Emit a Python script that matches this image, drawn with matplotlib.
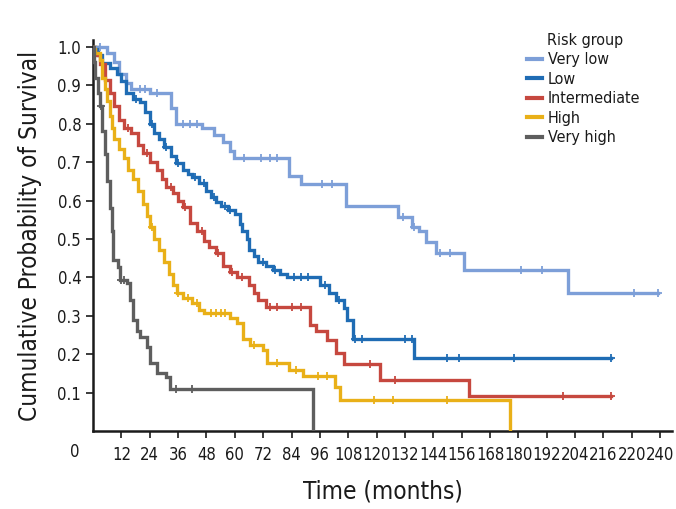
import numpy as np
import matplotlib
matplotlib.use("Agg")
import matplotlib.pyplot as plt
from matplotlib.lines import Line2D

plt.rcParams['font.family'] = ['DejaVu Sans']
plt.rcParams['font.stretch'] = 'condensed'

groups = ["Very low", "Low", "Intermediate", "High", "Very high"]
colors = ["#7d9fd8", "#1f6cb4", "#c6483f", "#e9b018", "#5e5e5e"]

# Kaplan-Meier steps (months, survival after the step)
t_very_low = [0, 6, 9, 11, 14, 16, 24, 33, 35, 46, 51, 55, 58, 59.5, 83, 88, 107, 129, 135, 138, 141, 145, 157, 201]
s_very_low = [1.0, 0.985, 0.96, 0.93, 0.905, 0.89, 0.88, 0.84, 0.80, 0.79, 0.77, 0.753, 0.73, 0.71,
              0.665, 0.643, 0.585, 0.558, 0.532, 0.52, 0.493, 0.463, 0.42, 0.36]
end_very_low = 239
c_very_low = [3, 20, 22, 27, 38, 41, 44, 64, 71, 75, 78, 97, 101, 131, 136, 147, 151, 181, 190, 229, 239]

t_low = [0, 2, 4, 7, 10, 12, 14, 17, 20, 22, 24, 26, 28, 30, 33, 35, 38, 40, 42, 45, 48, 50, 52, 54, 57,
         60, 62, 63, 65, 66, 68, 70, 73, 76, 79, 82, 96, 100, 103, 106, 107.5, 110, 136]
s_low = [1.0, 0.98, 0.957, 0.945, 0.93, 0.91, 0.88, 0.865, 0.857, 0.83, 0.80, 0.775, 0.76, 0.74, 0.715,
         0.697, 0.68, 0.67, 0.662, 0.645, 0.625, 0.61, 0.595, 0.585, 0.576, 0.565, 0.54, 0.52, 0.50, 0.47,
         0.455, 0.44, 0.43, 0.42, 0.41, 0.402, 0.38, 0.36, 0.34, 0.32, 0.29, 0.24, 0.19]
end_low = 219
c_low = [18, 25, 31, 36, 43, 47, 51, 56, 58, 72, 77, 85, 88, 91, 98, 104, 111, 114, 132, 135, 150, 155, 178, 219]

t_int = [0, 1, 3, 5, 7, 9, 11, 13, 16, 19, 21, 24, 27, 29, 31, 34, 36, 38, 41, 44, 47, 49, 52, 55, 58,
         61, 66, 68, 70, 73, 92, 94.5, 99, 103, 106, 121.5, 159]
s_int = [1.0, 0.98, 0.955, 0.915, 0.88, 0.845, 0.81, 0.79, 0.775, 0.745, 0.723, 0.70, 0.68, 0.655, 0.636,
         0.619, 0.60, 0.584, 0.541, 0.52, 0.495, 0.48, 0.463, 0.43, 0.415, 0.40, 0.38, 0.36, 0.34, 0.322,
         0.275, 0.26, 0.237, 0.202, 0.175, 0.134, 0.09]
end_int = 219
c_int = [15, 23, 33, 39, 46, 53, 59, 63, 75, 78, 84, 88, 117, 128, 199, 219]

t_high = [0, 1, 3, 4, 5, 6, 7, 8, 9, 11, 13, 15, 17, 19, 21, 23, 24, 26, 28, 30, 32, 34, 35.5, 38, 42,
          45, 47, 58, 61, 63.5, 66.5, 72, 73.5, 83, 89, 102.5, 104.5, 176.5]
s_high = [1.0, 0.985, 0.965, 0.92, 0.89, 0.86, 0.82, 0.79, 0.76, 0.735, 0.71, 0.68, 0.655, 0.625, 0.59,
          0.56, 0.53, 0.50, 0.47, 0.44, 0.41, 0.38, 0.36, 0.345, 0.333, 0.315, 0.306, 0.295, 0.28, 0.24,
          0.224, 0.21, 0.178, 0.16, 0.142, 0.115, 0.082, 0.0]
end_high = 176.5
c_high = [25, 36, 40, 44, 50, 52, 54, 56, 68, 78, 86, 95, 99, 119, 127, 150]

t_vhigh = [0, 0.5, 1, 2, 3, 4, 5, 6, 7, 8, 8.6, 10.7, 11.4, 14.2, 15.7, 17, 18.5, 19.9, 22.7, 24, 27, 31,
           32.6, 93]
s_vhigh = [1.0, 0.96, 0.92, 0.88, 0.845, 0.78, 0.72, 0.65, 0.58, 0.52, 0.445, 0.428, 0.393, 0.385, 0.341,
           0.289, 0.26, 0.245, 0.22, 0.176, 0.15, 0.141, 0.109, 0.0]
end_vhigh = 93
c_vhigh = [3.5, 12, 13, 35, 42]

curves = [
    (t_very_low, s_very_low, end_very_low, c_very_low),
    (t_low, s_low, end_low, c_low),
    (t_int, s_int, end_int, c_int),
    (t_high, s_high, end_high, c_high),
    (t_vhigh, s_vhigh, end_vhigh, c_vhigh),
]

x_ticks = list(range(12, 241, 12))
x_labels = [str(v) for v in x_ticks]
x_labels[x_ticks.index(228)] = "220"   # as printed in the original
y_ticks = [0.1, 0.2, 0.3, 0.4, 0.5, 0.6, 0.7, 0.8, 0.9, 1.0]

fig = plt.figure(figsize=(6.76, 5.09), dpi=100)
ax = fig.add_axes([93 / 676, 1 - 431 / 509, (672 - 93) / 676, (431 - 40) / 509])

for (t, s, end, cens), col in zip(curves, colors):
    tt = np.array(t + [end], dtype=float)
    ss = np.array(s + [s[-1]], dtype=float)
    ax.step(tt, ss, where="post", color=col, lw=2.4, solid_joinstyle="miter", zorder=3)
    idx = np.searchsorted(np.array(t, dtype=float), np.array(cens, dtype=float), side="right") - 1
    cy = np.array(s)[idx]
    ax.plot(cens, cy, ls="none", marker="+", ms=6, mew=1.3, color=col, zorder=4)

ax.set_xlim(0, 245)
ax.set_ylim(0, 1.018)
ax.set_xticks(x_ticks)
ax.set_xticklabels(x_labels)
ax.set_yticks(y_ticks)
ax.set_yticklabels([f"{v:.1f}" for v in y_ticks])
ax.tick_params(axis="both", direction="out", length=5, width=1.2, labelsize=12, colors="#1a1a1a")
ax.tick_params(axis="x", pad=6)
for side in ["top", "right"]:
    ax.spines[side].set_visible(False)
for side in ["left", "bottom"]:
    ax.spines[side].set_linewidth(1.8)
    ax.spines[side].set_color("#1a1a1a")

ax.text(-18 / 2.364, -0.032, "0", ha="center", va="top", fontsize=12, color="#1a1a1a")

ax.set_xlabel("Time (months)", fontsize=17.5, color="#1a1a1a", labelpad=11)
ax.set_ylabel("Cumulative Probability of Survival", fontsize=17.5, color="#1a1a1a", labelpad=11)

handles = [Line2D([0], [0], color=c, lw=3) for c in colors]
leg = ax.legend(handles, groups, loc="upper left",
                bbox_to_anchor=(0.739, 0.985), frameon=False, fontsize=11.5,
                handlelength=0.9, handletextpad=0.4, labelspacing=0.28, borderaxespad=0)
for txt in leg.get_texts():
    txt.set_color("#1a1a1a")
ax.text(0.784, 1.0, "Risk group", transform=ax.transAxes, ha="left", va="center",
        fontsize=11.5, color="#1a1a1a")

fig.savefig("out.png", dpi=100)
